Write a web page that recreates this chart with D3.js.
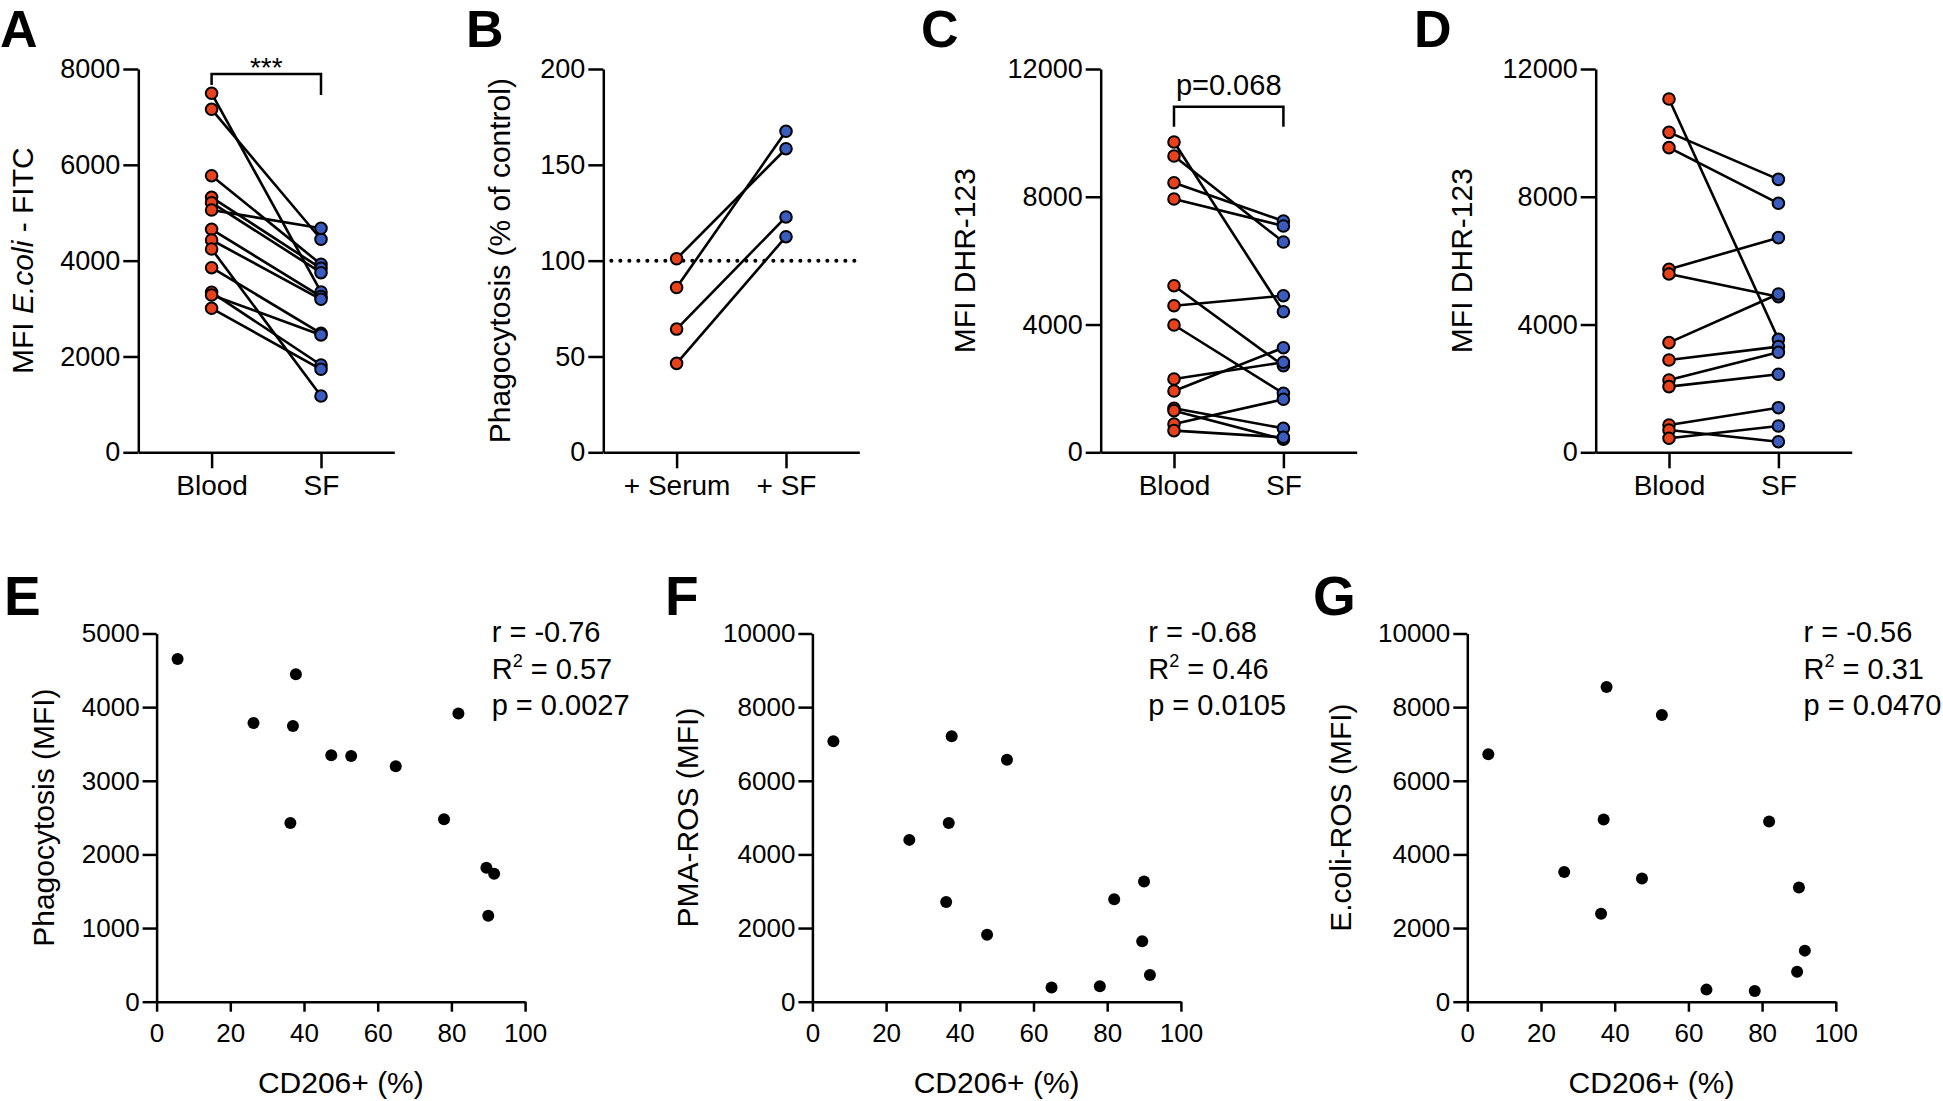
<!DOCTYPE html>
<html>
<head>
<meta charset="utf-8">
<script src="https://cdn.jsdelivr.net/npm/d3@7/dist/d3.min.js"></script>
<style>
  html, body { margin: 0; padding: 0; background: #fff; }
  svg { display: block; }
  text { font-family: "Liberation Sans", Arial, Helvetica, sans-serif; fill: #000; }
</style>
</head>
<body>
<svg id="chart" width="1943" height="1101"></svg>
<script>
// ---------- data ----------
const pairCats = ["Blood", "SF"];
const pairCatsB = ["+ Serum", "+ SF"];

const aTicks = [0, 2000, 4000, 6000, 8000];
const aBlood = [7493, 7159, 5773, 5322, 5210, 5057, 4654, 4431, 4243, 3853, 3339, 3283, 3006];
const aSF    = [3346, 4446, 3924, 3840, 3749, 4675, 3249, 3193, 1175, 2484, 1822, 2449, 1732];

const bTicks = [0, 50, 100, 150, 200];
const bSerum = [101, 86, 64.3, 46.4];
const bSF    = [158.4, 167.5, 122.8, 112.5];
const bControl = 100;

const cdTicks = [0, 4000, 8000, 12000];
const cBlood = [9714, 9276, 8440, 7930, 5216, 4590, 3985, 2295, 1919, 1377, 1304, 887, 678];
const cSF    = [4402, 6584, 7241, 7085, 2711, 4903, 1847, 2818, 3275, 751, 407, 1659, 470];

const dBlood = [11061, 10017, 9537, 5729, 5583, 3433, 2890, 2264, 2056, 856, 699, 438];
const dSF    = [3537, 8546, 7795, 6720, 4873, 4957, 3308, 3131, 2443, 1397, 332, 823];

const cd206  = [5.7, 26.3, 36.3, 37.0, 37.8, 47.4, 52.8, 64.9, 78.0, 81.9, 89.5, 90.0, 91.6];
const ePhago = [4653, 3786, 2428, 3744, 4447, 3346, 3337, 3196, 2479, 3913, 1818, 1167, 1739];
const fPMA   = [7076, 4395, 2709, 4855, 7207, 1818, 6570, 384, 422, 2784, 1640, 3262, 722];
const gEcoli = [6720, 3524, 2390, 4948, 8547, 3346, 7788, 328, 291, 4892, 815, 3102, 1387];

const xTicksCD = [0, 20, 40, 60, 80, 100];
const eTicks = [0, 1000, 2000, 3000, 4000, 5000];
const fgTicks = [0, 2000, 4000, 6000, 8000, 10000];

const eStats = ["r = -0.76", "0.57", "p = 0.0027"];
const fStats = ["r = -0.68", "0.46", "p = 0.0105"];
const gStats = ["r = -0.56", "0.31", "p = 0.0470"];

// ---------- style ----------
const RED = "#e8411c";
const BLUE = "#3a5cbf";
const AX = 2.5;

const svg = d3.select("#chart");

function styleAxis(g, fs) {
  g.selectAll("path.domain").attr("stroke", "#000").attr("stroke-width", AX);
  g.selectAll(".tick line").attr("stroke", "#000").attr("stroke-width", AX);
  g.selectAll(".tick text").attr("font-size", fs).attr("fill", "#000")
    .attr("font-family", '"Liberation Sans", Arial, sans-serif');
}

function panelLetter(txt, x, y, fs) {
  svg.append("text").attr("x", x).attr("y", y).attr("font-size", fs)
    .attr("font-weight", "bold").text(txt);
}

// paired before-after plot
function pairedPanel(o) {
  const x = d3.scalePoint().domain(o.cats).range([o.x0, o.x0 + 256]).padding(0.67);
  const y = d3.scaleLinear().domain([0, o.ymax]).range([452.3, 69]);
  const g = svg.append("g");

  const ya = g.append("g").attr("transform", `translate(${o.x0},0)`)
    .call(d3.axisLeft(y).tickValues(o.ticks).tickSize(15).tickSizeOuter(0).tickPadding(3).tickFormat(d3.format("d")));
  styleAxis(ya, 27);
  const xa = g.append("g").attr("transform", `translate(0,${y(0)})`)
    .call(d3.axisBottom(x).tickSize(16).tickSizeOuter(0).tickPadding(7));
  styleAxis(xa, 28);

  if (o.refLine !== undefined) {
    g.append("line").attr("x1", o.x0 + 8).attr("x2", o.x0 + 256)
      .attr("y1", y(o.refLine)).attr("y2", y(o.refLine))
      .attr("stroke", "#000").attr("stroke-width", 4)
      .attr("stroke-linecap", "round").attr("stroke-dasharray", "0.1,8.9");
  }

  const pairs = o.before.map((v, i) => [v, o.after[i]]);
  g.selectAll("line.pair").data(pairs).join("line").attr("class", "pair")
    .attr("x1", x(o.cats[0])).attr("x2", x(o.cats[1]))
    .attr("y1", d => y(d[0])).attr("y2", d => y(d[1]))
    .attr("stroke", "#000").attr("stroke-width", 2.6);
  g.selectAll("circle.b").data(o.before).join("circle").attr("class", "b")
    .attr("cx", x(o.cats[0])).attr("cy", d => y(d)).attr("r", 5.8)
    .attr("fill", RED).attr("stroke", "#000").attr("stroke-width", 2);
  g.selectAll("circle.a").data(o.after).join("circle").attr("class", "a")
    .attr("cx", x(o.cats[1])).attr("cy", d => y(d)).attr("r", 5.8)
    .attr("fill", BLUE).attr("stroke", "#000").attr("stroke-width", 2);

  // y title
  const t = g.append("text").attr("transform", `translate(${o.labelX},${(y(0) + y(o.ymax)) / 2}) rotate(-90)`)
    .attr("text-anchor", "middle").attr("font-size", 30);
  o.label.forEach(p => t.append("tspan").attr("font-style", p.i ? "italic" : "normal").text(p.t));

  if (o.bracket) {
    const bx1 = x(o.cats[0]), bx2 = x(o.cats[1]);
    const by = o.bracket.y;
    g.append("path")
      .attr("d", `M${bx1},${o.bracket.l} V${by} H${bx2} V${o.bracket.r}`)
      .attr("fill", "none").attr("stroke", "#000").attr("stroke-width", AX);
    g.append("text").attr("x", (bx1 + bx2) / 2).attr("y", o.bracket.ty)
      .attr("text-anchor", "middle").attr("font-size", o.bracket.fs).text(o.bracket.text);
  }
  return { x, y };
}

function scatterPanel(o) {
  const x = d3.scaleLinear().domain([0, 100]).range([o.x0, o.x0 + 368.5]);
  const y = d3.scaleLinear().domain([0, o.ymax]).range([1001.7, 633.5]);
  const g = svg.append("g");
  const ya = g.append("g").attr("transform", `translate(${o.x0},0)`)
    .call(d3.axisLeft(y).tickValues(o.ticks).tickSize(14).tickSizeOuter(0).tickPadding(3).tickFormat(d3.format("d")));
  styleAxis(ya, 26);
  const xa = g.append("g").attr("transform", `translate(0,${y(0)})`)
    .call(d3.axisBottom(x).tickValues(xTicksCD).tickSize(10).tickSizeOuter(0).tickPadding(12).tickFormat(d3.format("d")));
  styleAxis(xa, 26);

  g.selectAll("circle").data(o.vals).join("circle")
    .attr("cx", (d, i) => x(cd206[i])).attr("cy", d => y(d)).attr("r", 6).attr("fill", "#000");

  g.append("text").attr("x", (x(0) + x(100)) / 2).attr("y", 1093).attr("text-anchor", "middle")
    .attr("font-size", 30).text("CD206+ (%)");
  g.append("text").attr("transform", `translate(${o.labelX},${(y(0) + y(o.ymax)) / 2}) rotate(-90)`)
    .attr("text-anchor", "middle").attr("font-size", 30).text(o.label);

  const s = o.stats;
  g.append("text").attr("x", o.sx).attr("y", 642).attr("font-size", 29).text(s[0]);
  const r2 = g.append("text").attr("x", o.sx).attr("y", 679).attr("font-size", 29);
  r2.append("tspan").text("R");
  r2.append("tspan").attr("font-size", 18).attr("dy", -12).text("2");
  r2.append("tspan").attr("dy", 12).text(" = " + s[1]);
  g.append("text").attr("x", o.sx).attr("y", 715).attr("font-size", 29).text(s[2]);
}

// ---------- panels ----------
pairedPanel({ cats: pairCats, x0: 138.3, ymax: 8000, ticks: aTicks, before: aBlood, after: aSF,
  labelX: 33, label: [{ t: "MFI " }, { t: "E.coli", i: true }, { t: " - FITC" }],
  bracket: { y: 74, l: 85, r: 95, ty: 77, fs: 28, text: "***" } });

pairedPanel({ cats: pairCatsB, x0: 603.3, ymax: 200, ticks: bTicks, before: bSerum, after: bSF,
  labelX: 510, label: [{ t: "Phagocytosis (% of control)" }], refLine: bControl });

pairedPanel({ cats: pairCats, x0: 1100.7, ymax: 12000, ticks: cdTicks, before: cBlood, after: cSF,
  labelX: 975, label: [{ t: "MFI DHR-123" }],
  bracket: { y: 106.7, l: 126.7, r: 126.7, ty: 94.5, fs: 29, text: "p=0.068" } });

pairedPanel({ cats: pairCats, x0: 1595.7, ymax: 12000, ticks: cdTicks, before: dBlood, after: dSF,
  labelX: 1472, label: [{ t: "MFI DHR-123" }] });

scatterPanel({ x0: 156.6, ymax: 5000, ticks: eTicks, vals: ePhago, label: "Phagocytosis (MFI)", labelX: 54, stats: eStats, sx: 491.7 });
scatterPanel({ x0: 812.4, ymax: 10000, ticks: fgTicks, vals: fPMA, label: "PMA-ROS (MFI)", labelX: 698, stats: fStats, sx: 1148.2 });
scatterPanel({ x0: 1467.3, ymax: 10000, ticks: fgTicks, vals: gEcoli, label: "E.coli-ROS (MFI)", labelX: 1351, stats: gStats, sx: 1803.5 });

panelLetter("A", 0, 47, 52);
panelLetter("B", 466, 47, 52);
panelLetter("C", 921, 47, 52);
panelLetter("D", 1414, 47, 52);
panelLetter("E", 4, 615, 55);
panelLetter("F", 665, 615, 55);
panelLetter("G", 1313, 615, 55);
</script>
</body>
</html>
